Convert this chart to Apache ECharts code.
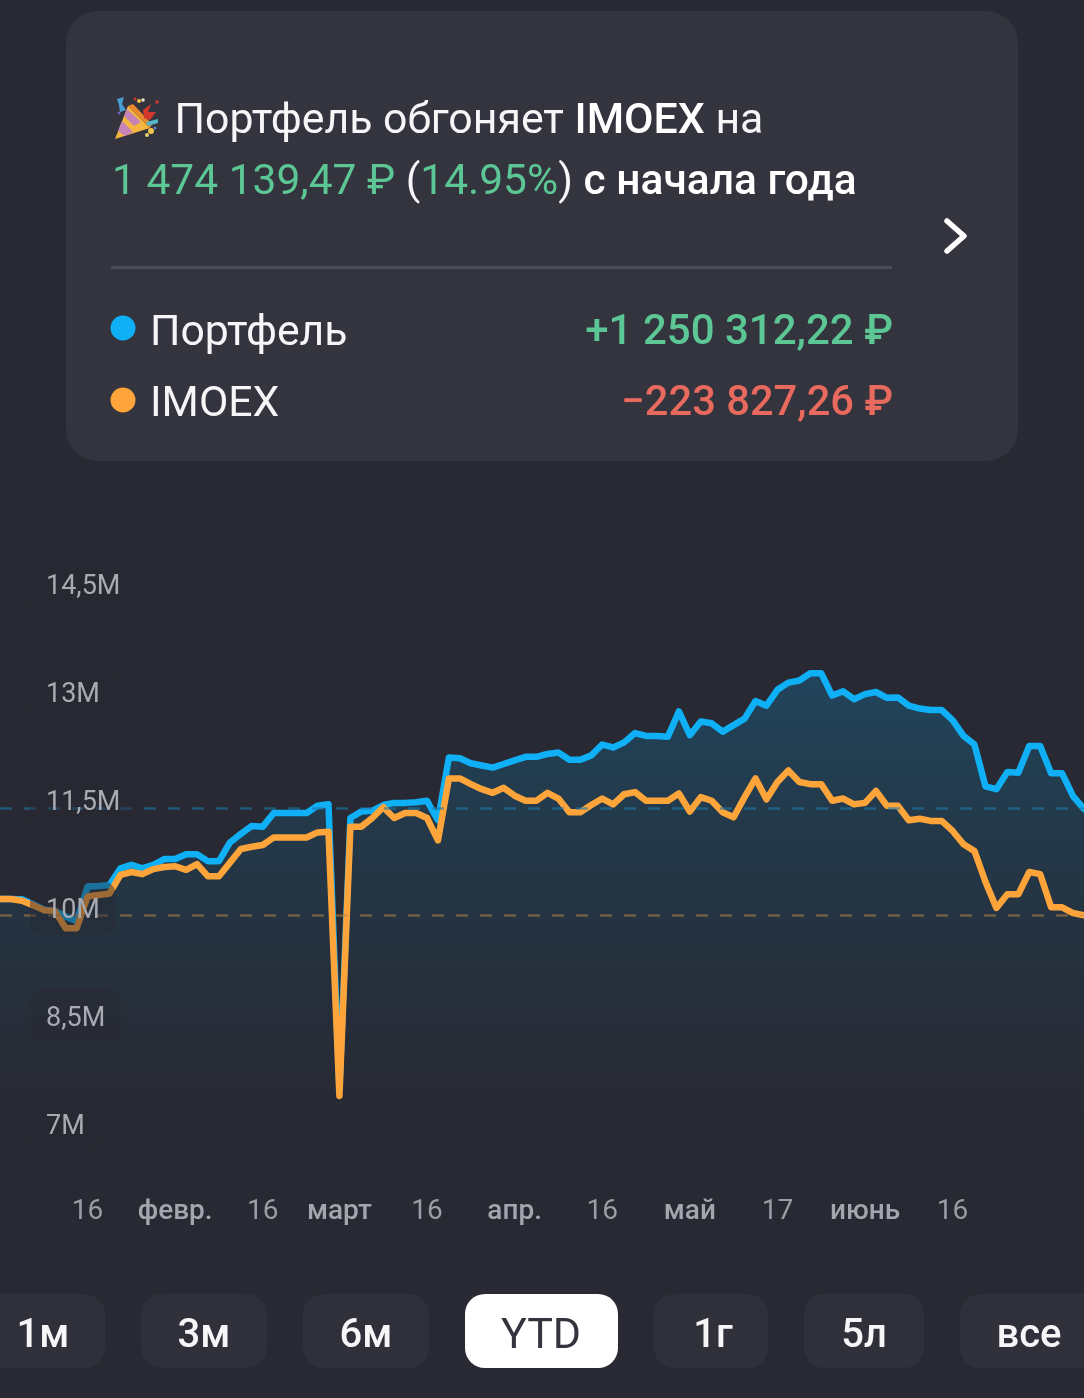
<!DOCTYPE html>
<html lang="ru">
<head>
<meta charset="utf-8">
<title>Портфель и IMOEX</title>
<style>
  html, body { margin: 0; padding: 0; background: #282932; }
  #chart { width: 1084px; height: 1398px; }
</style>
<script src="https://cdn.jsdelivr.net/npm/echarts@6/dist/echarts.min.js"></script>
</head>
<body>
<div id="chart"></div>
<script>
// Portfolio value over the year, in millions of roubles, one reading per sample
const portfolio = [
  10.125, 10.125, 10.12, 10.055, 9.98, 9.96, 9.88, 9.82, 10.30, 10.305,
  10.32, 10.55, 10.60, 10.55, 10.60, 10.68, 10.68, 10.745, 10.745, 10.65,
  10.65, 10.91, 11.03, 11.14, 11.13, 11.32, 11.32, 11.32, 11.32, 11.42,
  11.44, 7.5, 11.25, 11.34, 11.35, 11.43, 11.46, 11.46, 11.47, 11.49,
  11.22, 12.09, 12.08, 12.01, 11.98, 11.95, 12.00, 12.05, 12.10, 12.10,
  12.14, 12.16, 12.06, 12.06, 12.12, 12.27, 12.23, 12.30, 12.43, 12.39,
  12.39, 12.38, 12.73, 12.40, 12.59, 12.565, 12.45, 12.54, 12.63, 12.875,
  12.81, 13.03, 13.13, 13.16, 13.26, 13.26, 12.95, 13.01, 12.90, 12.97,
  13.00, 12.92, 12.925, 12.81, 12.77, 12.75, 12.75, 12.61, 12.39, 12.27,
  11.69, 11.65, 11.89, 11.88, 12.25, 12.25, 11.87, 11.87, 11.555, 11.375
];

// The same capital invested in the IMOEX index
const imoex = [
  10.125, 10.125, 10.10, 10.04, 9.97, 9.96, 9.72, 9.72, 10.16, 10.18,
  10.20, 10.46, 10.50, 10.47, 10.54, 10.57, 10.58, 10.53, 10.61, 10.44,
  10.44, 10.63, 10.82, 10.85, 10.875, 10.98, 10.98, 10.98, 10.98, 11.05,
  11.06, 7.39, 11.13, 11.13, 11.25, 11.40, 11.25, 11.32, 11.32, 11.25,
  10.94, 11.80, 11.80, 11.72, 11.65, 11.60, 11.67, 11.56, 11.49, 11.49,
  11.60, 11.52, 11.33, 11.33, 11.43, 11.52, 11.44, 11.58, 11.61, 11.49,
  11.49, 11.49, 11.59, 11.34, 11.54, 11.49, 11.33, 11.26, 11.54, 11.80,
  11.51, 11.75, 11.91, 11.75, 11.72, 11.72, 11.49, 11.52, 11.44, 11.46,
  11.625, 11.42, 11.42, 11.22, 11.24, 11.21, 11.21, 11.07, 10.885, 10.79,
  10.365, 10.00, 10.19, 10.19, 10.50, 10.47, 10.01, 10.01, 9.93, 9.90
];

// Sample positions of the bottom axis labels
const xTickSamples = [8, 16, 24, 31, 39, 47, 55, 63, 71, 79, 87];
const xTickLabels = ['16', 'февр.', '16', 'март', '16', 'апр.', '16', 'май', '17', 'июнь', '16'];

const yTickValues = [7, 8.5, 10, 11.5, 13, 14.5];
const yTickLabels = ['7M', '8,5M', '10M', '11,5M', '13M', '14,5M'];

const ranges = ['1м', '3м', '6м', 'YTD', '1г', '5л', 'все'];
const selectedRange = 'YTD';

const categories = portfolio.map((_, i) => {
  const at = xTickSamples.indexOf(i);
  return at >= 0 ? xTickLabels[at] : '';
});

const FONT = 'Roboto, "Noto Sans", sans-serif';
const WHITE = '#f6f6f8';
const GREEN = '#5cc795';
const RED = '#e8695d';
const BLUE = '#0fb0f6';
const ORANGE = '#fda53a';

function label(x, y, text, fill, size, extra) {
  return {
    type: 'text', z: 20,
    style: Object.assign({
      x, y, text, fill,
      font: `${size}px ${FONT}`,
      align: 'left', verticalAlign: 'middle'
    }, extra || {})
  };
}

// Range selector chips along the bottom edge
const chipBoxes = [[-20, 125], [141, 126], [303, 126], [465, 153], [654, 114], [804, 120], [960, 150]];
const chipCentres = [43, 204, 366, 541, 713, 864, 1029];
const chips = [];
ranges.forEach((name, i) => {
  const on = name === selectedRange;
  chips.push({
    type: 'rect', z: 10,
    shape: { x: chipBoxes[i][0], y: 1294, width: chipBoxes[i][1], height: 74, r: 20 },
    style: { fill: on ? '#ffffff' : '#2f303a' }
  });
  chips.push(label(chipCentres[i], 1337, name, on ? '#33343e' : WHITE, 40, {
    align: 'center',
    font: on ? `43px ${FONT}` : `500 40px ${FONT}`
  }));
});

// Party popper beside the headline
function poly(points, fill) {
  return { type: 'polygon', z: 21, shape: { points }, style: { fill } };
}
function dot(cx, cy, r, fill) {
  return { type: 'circle', z: 21, shape: { cx, cy, r }, style: { fill } };
}
const popper = [
  poly([[115, 139], [128, 106], [150, 128]], '#f4b63f'),
  poly([[118, 131], [122, 121], [133, 132], [125, 136]], '#c583b8'),
  poly([[124, 116], [127, 109], [141, 122], [134, 126]], '#c583b8'),
  poly([[128, 106], [133, 104], [152, 124], [150, 128]], '#e98a2d'),
  poly([[143, 110], [151, 104], [148, 112], [156, 112], [150, 120], [144, 118]], '#d4382c'),
  poly([[117, 99], [124, 97], [122, 104], [126, 110], [120, 112], [119, 105]], '#4a9ed6'),
  poly([[146, 122], [158, 119], [158, 123], [148, 126]], '#55b5c8'),
  dot(139, 101, 2, '#f4c542'), dot(143, 100, 1.8, '#e8e2c8'), dot(151, 131, 3, '#f1c44a'),
  dot(155, 128, 1.5, '#5a7fd0'), dot(135, 99, 1.5, '#d4382c'), dot(157, 102, 1.8, '#d4382c'),
  dot(119, 113, 1.5, '#7a5bb8'), dot(147, 135, 2, '#e8d06a')
];

const graphicElements = [
  {
    type: 'rect', z: 9,
    shape: { x: 66, y: 11, width: 952, height: 450, r: 32 },
    style: { fill: '#33343e' }
  },
  ...popper,
  {
    type: 'text', z: 20,
    style: {
      x: 174.5, y: 122,
      text: '{n|Портфель обгоняет }{b|IMOEX}{n| на}',
      verticalAlign: 'middle',
      rich: {
        n: { fill: WHITE, font: `42.8px ${FONT}` },
        b: { fill: '#ffffff', font: `500 42.8px ${FONT}` }
      }
    }
  },
  {
    type: 'text', z: 20,
    style: {
      x: 112, y: 183,
      text: '{g|1 474 139,47 ₽}{n| (}{g|14.95%}{n|)}{b| с начала года}',
      verticalAlign: 'middle',
      rich: {
        g: { fill: GREEN, font: `42.5px ${FONT}` },
        n: { fill: WHITE, font: `42.5px ${FONT}` },
        b: { fill: '#ffffff', font: `500 42.5px ${FONT}` }
      }
    }
  },
  {
    type: 'polyline', z: 20,
    shape: { points: [[947, 221], [964, 236], [947, 251]] },
    style: { stroke: '#ffffff', lineWidth: 5.5, fill: 'none', lineCap: 'round', lineJoin: 'round' }
  },
  {
    type: 'rect', z: 20,
    shape: { x: 111, y: 266, width: 781, height: 3 },
    style: { fill: '#4a4b58' }
  },
  dot(123, 328, 12.5, BLUE),
  dot(123, 400, 12.5, ORANGE),
  label(150, 334, 'Портфель', WHITE, 42.7),
  label(150, 405, 'IMOEX', WHITE, 42.7),
  label(893, 333, '+1 250 312,22 ₽', GREEN, 42, { align: 'right', font: `500 42px ${FONT}` }),
  label(893, 405, '−223 827,26 ₽', RED, 41.7, { align: 'right', font: `500 41.7px ${FONT}` }),
  ...chips
];

function lineSeries(name, data, color, dashColor, z, area) {
  return {
    name, type: 'line', data, z,
    showSymbol: false, symbol: 'none', smooth: false, silent: true,
    lineStyle: { color, width: 6.5, join: 'round', cap: 'round' },
    areaStyle: area,
    markLine: {
      silent: true, symbol: 'none', animation: false,
      label: { show: false },
      lineStyle: { color: dashColor, width: 2.5, type: [12, 12] },
      data: [{ yAxis: data[data.length - 1] }]
    }
  };
}

const chart = echarts.init(document.getElementById('chart'));
chart.setOption({
  animation: false,
  backgroundColor: '#282932',
  textStyle: { fontFamily: FONT },
  grid: { left: 0, right: 0, top: 548, height: 612, outerBoundsMode: 'none' },
  xAxis: {
    type: 'category', data: categories, boundaryGap: false,
    axisLine: { show: false }, axisTick: { show: false }, splitLine: { show: false },
    axisLabel: {
      interval: 0, hideOverlap: false, margin: 38,
      formatter: v => (/^\d+$/.test(v) ? `{d|${v}}` : v ? `{m|${v}}` : ''),
      rich: {
        d: { color: '#9b9da6', fontSize: 28, fontFamily: FONT },
        m: { color: '#a4a6af', fontSize: 28, fontWeight: 500, fontFamily: FONT }
      }
    }
  },
  yAxis: {
    type: 'value', min: 6.5, max: 15, z: 10,
    axisLine: { show: false }, axisTick: { show: false }, splitLine: { show: false },
    axisLabel: {
      inside: true, margin: 30,
      customValues: yTickValues,
      formatter: v => `{t|${yTickLabels[yTickValues.indexOf(v)]}}`,
      align: 'left', verticalAlign: 'middle',
      padding: [10, 16],
      borderRadius: 14,
      backgroundColor: 'rgba(40,41,50,0.45)',
      rich: {
        // A taller line box with the text at its foot centres the glyphs on the tick
        t: {
          color: '#a9abb3', fontSize: 27, fontFamily: FONT,
          lineHeight: 34, verticalAlign: 'bottom'
        }
      }
    }
  },
  series: [
    lineSeries('Портфель', portfolio, BLUE, 'rgba(30,120,170,0.6)', 3, {
      origin: 'start',
      color: new echarts.graphic.LinearGradient(0, 0, 0, 1, [
        { offset: 0, color: 'rgba(20,120,170,0.5)' },
        { offset: 0.55, color: 'rgba(20,100,135,0.22)' },
        { offset: 0.95, color: 'rgba(20,80,110,0)' }
      ])
    }),
    lineSeries('IMOEX', imoex, ORANGE, 'rgba(190,135,70,0.5)', 4, undefined)
  ],
  graphic: { elements: graphicElements }
});
</script>
</body>
</html>
